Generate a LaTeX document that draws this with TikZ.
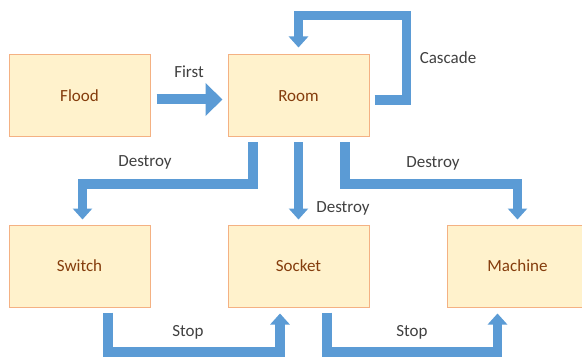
\documentclass[tikz,border=0pt]{standalone}
\usepackage{fontspec}
\setmainfont{Carlito}
\usetikzlibrary{arrows.meta}
\definecolor{boxfill}{HTML}{FFF2CC}
\definecolor{boxline}{HTML}{F4B183}
\definecolor{boxtext}{HTML}{843C0C}
\definecolor{arrowblue}{HTML}{5B9BD5}
\definecolor{labeltext}{HTML}{404040}
\begin{document}
\begin{tikzpicture}[x=1pt,y=-1pt,
  box/.style={draw=boxline, fill=boxfill, line width=1pt, minimum width=141pt, minimum height=82pt, inner sep=0pt, text=boxtext, font=\fontsize{17}{20}\selectfont, anchor=north west},
  flow/.style={draw=arrowblue, line width=9.5pt, line join=miter, -{Triangle[width=19pt,length=11pt]}},
  bigflow/.style={draw=arrowblue, line width=10pt, -{Triangle[width=32pt,length=17pt]}},
  lbl/.style={text=labeltext, font=\fontsize{17}{20}\selectfont}]
\useasboundingbox (0,0) rectangle (582,361);
\node[box] (flood) at (8.5,54.5) {Flood};
\node[box] (room) at (227.5,54.5) {Room};
\node[box] (switch) at (8.5,224.5) {Switch};
\node[box] (socket) at (227.5,224.5) {Socket};
\node[box] (machine) at (446.5,224.5) {Machine};
\coordinate (casc) at (406.5,15.5);
\draw[bigflow] ([shift={(6,3.5)}]flood.east) -- ([shift={(-5,3.5)}]room.west);
\draw[flow] ([shift={(5,4)}]room.east) -| (casc) -| ([shift={(0,-7)}]room.north);
\draw[flow] ([shift={(-45.5,5)}]room.south) -- ++(0,41.5) -| ([shift={(3,-5)}]switch.north);
\draw[flow] ([shift={(0,5)}]room.south) -- ([shift={(0,-5)}]socket.north);
\draw[flow] ([shift={(46.5,5)}]room.south) -- ++(0,41.5) -| ([shift={(0,-5)}]machine.north);
\draw[flow] ([shift={(28.5,5)}]switch.south) -- ++(0,39.5) -| ([shift={(-18.5,6)}]socket.south);
\draw[flow] ([shift={(28.5,5)}]socket.south) -- ++(0,39.5) -| ([shift={(-20,6)}]machine.south);
\node[lbl] (lfirst) at (189,72) {First};
\node[lbl] (lcascade) at (448,58) {Cascade};
\node[lbl] (ldest1) at (145,162) {Destroy};
\node[lbl] (ldest2) at (343,208) {Destroy};
\node[lbl] (ldest3) at (433,163) {Destroy};
\node[lbl] (lstop1) at (188,332) {Stop};
\node[lbl] (lstop2) at (412,332) {Stop};
\end{tikzpicture}
\end{document}
